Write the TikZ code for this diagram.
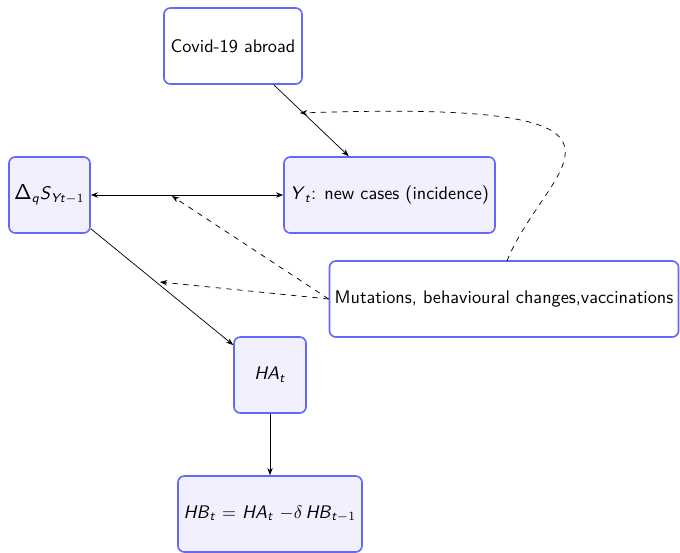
\documentclass[tikz,border=0pt]{standalone}
\usepackage{amsmath}
\usetikzlibrary{arrows.meta}
\renewcommand{\familydefault}{\sfdefault}
\newcommand\sv[1]{\textsf{\textit{#1}}}
\definecolor{boxline}{RGB}{102,102,250}
\definecolor{boxfill}{RGB}{240,240,254}
\begin{document}
\begin{tikzpicture}[x=0.554pt,y=-0.554pt,
  box/.style={draw=boxline, line width=0.9pt, rounded corners=3.5pt, fill=boxfill, align=center, minimum height=76*0.554pt, inner sep=0pt, font=\fontsize{10.1}{12}\selectfont},
  wbox/.style={box, fill=white},
  arr/.style={-{Stealth[length=4pt,width=3pt]}, black},
  darr/.style={arr, dashed}]
\useasboundingbox (0,0) rectangle (680,552);
\node[wbox, minimum width=138*0.554pt] (covid) at (233,46) {Covid-19 abroad};
\node[box, minimum width=81*0.554pt] (delta) at (49.5,195) {{\large Δ}$_{\sv{q}}$\sv{S}$_{\sv{Yt}-1}$};
\node[box, minimum width=211*0.554pt] (Y) at (389.5,195) {\sv{Y}$_{\sv{t}}$: new cases (incidence)};
\node[wbox, minimum width=349*0.554pt] (mut) at (504,299) {Mutations, behavioural changes,vaccinations};
\node[box, minimum width=72*0.554pt] (HA) at (270,375) {\sv{HA}$_{\sv{t}}$};
\node[box, minimum width=184*0.554pt] (HB) at (270,514) {\sv{HB}$_{\sv{t}}$ $=$ \sv{HA}$_{\sv{t}}$ $-\delta$\,\sv{HB}$_{\sv{t}-1}$};
\coordinate (m1) at (172,196);
\coordinate (m2) at (160,282);
\coordinate (m3) at (300,113);
\coordinate (mstart) at (507,261);
\draw[arr] (covid) -- (Y);
\draw[{Stealth[length=4pt,width=3pt]}-{Stealth[length=4pt,width=3pt]}] (delta) -- (Y);
\draw[arr] (delta) -- (HA);
\draw[arr] (HA) -- (HB);
\draw[darr] (mut.west) -- (m1);
\draw[darr] (mut.west) -- (m2);
\draw[darr] (mstart) .. controls (545,165) and (690,100) .. (m3);
\end{tikzpicture}
\end{document}
